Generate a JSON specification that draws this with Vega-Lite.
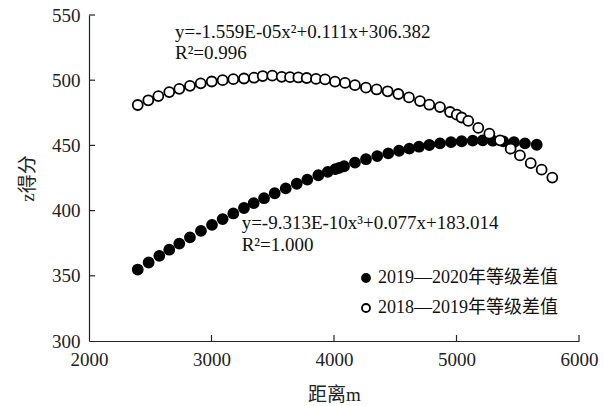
{
  "$schema": "https://vega.github.io/schema/vega-lite/v6.json",
  "width": 490,
  "height": 326,
  "padding": {"left": 89, "top": 15, "right": 25, "bottom": 65},
  "autosize": {"type": "none"},
  "background": "white",
  "config": {
    "view": {"stroke": null},
    "font": "Liberation Serif",
    "axis": {"grid": false, "domainColor": "#222", "labelColor": "#222", "titleColor": "#222", "labelFont": "Liberation Serif", "titleFont": "Liberation Serif, Noto Sans CJK SC", "labelFontSize": 19, "titleFontSize": 19, "titleFontWeight": "normal", "ticks": false, "domainWidth": 1.2, "labelFlush": false}
  },
  "layer": [
    {
      "data": {"values": [{"tx": 3000}, {"tx": 4000}, {"tx": 5000}, {"tx": 6000}]},
      "mark": {"type": "rule", "color": "#222", "strokeWidth": 1.2},
      "encoding": {
        "x": {"field": "tx", "type": "quantitative", "scale": {"domain": [2000, 6000], "nice": false, "zero": false}},
        "y": {"datum": 300, "type": "quantitative"},
        "y2": {"datum": 304.6}
      }
    },
    {
      "data": {"values": [{"ty": 350}, {"ty": 400}, {"ty": 450}, {"ty": 500}, {"ty": 550}]},
      "mark": {"type": "rule", "color": "#222", "strokeWidth": 1.2},
      "encoding": {
        "y": {"field": "ty", "type": "quantitative"},
        "x": {"datum": 2000, "type": "quantitative"},
        "x2": {"datum": 2049}
      }
    },
    {
      "data": {
        "values": [
          {"d": 2398, "z": 354.8, "s": "2019—2020年等级差值"},
          {"d": 2487, "z": 360.2, "s": "2019—2020年等级差值"},
          {"d": 2574, "z": 365.3, "s": "2019—2020年等级差值"},
          {"d": 2655, "z": 370.0, "s": "2019—2020年等级差值"},
          {"d": 2737, "z": 374.7, "s": "2019—2020年等级差值"},
          {"d": 2824, "z": 379.5, "s": "2019—2020年等级差值"},
          {"d": 2914, "z": 384.4, "s": "2019—2020年等级差值"},
          {"d": 3004, "z": 389.1, "s": "2019—2020年等级差值"},
          {"d": 3091, "z": 393.5, "s": "2019—2020年等级差值"},
          {"d": 3178, "z": 397.8, "s": "2019—2020年等级差值"},
          {"d": 3265, "z": 402.0, "s": "2019—2020年等级差值"},
          {"d": 3344, "z": 405.7, "s": "2019—2020年等级差值"},
          {"d": 3429, "z": 409.5, "s": "2019—2020年等级差值"},
          {"d": 3516, "z": 413.3, "s": "2019—2020年等级差值"},
          {"d": 3606, "z": 417.0, "s": "2019—2020年等级差值"},
          {"d": 3696, "z": 420.6, "s": "2019—2020年等级差值"},
          {"d": 3782, "z": 423.8, "s": "2019—2020年等级差值"},
          {"d": 3872, "z": 427.1, "s": "2019—2020年等级差值"},
          {"d": 3949, "z": 429.7, "s": "2019—2020年等级差值"},
          {"d": 4011, "z": 431.8, "s": "2019—2020年等级差值"},
          {"d": 4043, "z": 432.8, "s": "2019—2020年等级差值"},
          {"d": 4082, "z": 434.0, "s": "2019—2020年等级差值"},
          {"d": 4171, "z": 436.8, "s": "2019—2020年等级差值"},
          {"d": 4261, "z": 439.4, "s": "2019—2020年等级差值"},
          {"d": 4353, "z": 441.8, "s": "2019—2020年等级差值"},
          {"d": 4443, "z": 443.9, "s": "2019—2020年等级差值"},
          {"d": 4531, "z": 445.9, "s": "2019—2020年等级差值"},
          {"d": 4615, "z": 447.5, "s": "2019—2020年等级差值"},
          {"d": 4694, "z": 449.0, "s": "2019—2020年等级差值"},
          {"d": 4778, "z": 450.3, "s": "2019—2020年等级差值"},
          {"d": 4865, "z": 451.5, "s": "2019—2020年等级差值"},
          {"d": 4955, "z": 452.5, "s": "2019—2020年等级差值"},
          {"d": 5042, "z": 453.2, "s": "2019—2020年等级差值"},
          {"d": 5132, "z": 453.7, "s": "2019—2020年等级差值"},
          {"d": 5214, "z": 453.8, "s": "2019—2020年等级差值"},
          {"d": 5296, "z": 453.6, "s": "2019—2020年等级差值"},
          {"d": 5382, "z": 453.1, "s": "2019—2020年等级差值"},
          {"d": 5469, "z": 452.5, "s": "2019—2020年等级差值"},
          {"d": 5559, "z": 451.6, "s": "2019—2020年等级差值"},
          {"d": 5655, "z": 450.5, "s": "2019—2020年等级差值"},
          {"d": 2398, "z": 481.0, "s": "2018—2019年等级差值"},
          {"d": 2484, "z": 484.6, "s": "2018—2019年等级差值"},
          {"d": 2566, "z": 487.8, "s": "2018—2019年等级差值"},
          {"d": 2655, "z": 490.9, "s": "2018—2019年等级差值"},
          {"d": 2737, "z": 493.4, "s": "2018—2019年等级差值"},
          {"d": 2824, "z": 495.7, "s": "2018—2019年等级差值"},
          {"d": 2912, "z": 497.6, "s": "2018—2019年等级差值"},
          {"d": 3002, "z": 499.0, "s": "2018—2019年等级差值"},
          {"d": 3091, "z": 500.0, "s": "2018—2019年等级差值"},
          {"d": 3178, "z": 500.8, "s": "2018—2019年等级差值"},
          {"d": 3265, "z": 501.3, "s": "2018—2019年等级差值"},
          {"d": 3347, "z": 501.9, "s": "2018—2019年等级差值"},
          {"d": 3418, "z": 503.2, "s": "2018—2019年等级差值"},
          {"d": 3496, "z": 503.5, "s": "2018—2019年等级差值"},
          {"d": 3573, "z": 502.6, "s": "2018—2019年等级差值"},
          {"d": 3641, "z": 502.3, "s": "2018—2019年等级差值"},
          {"d": 3709, "z": 502.1, "s": "2018—2019年等级差值"},
          {"d": 3777, "z": 501.7, "s": "2018—2019年等级差值"},
          {"d": 3853, "z": 501.0, "s": "2018—2019年等级差值"},
          {"d": 3927, "z": 500.6, "s": "2018—2019年等级差值"},
          {"d": 4008, "z": 498.9, "s": "2018—2019年等级差值"},
          {"d": 4090, "z": 497.9, "s": "2018—2019年等级差值"},
          {"d": 4171, "z": 496.2, "s": "2018—2019年等级差值"},
          {"d": 4261, "z": 494.3, "s": "2018—2019年等级差值"},
          {"d": 4348, "z": 492.9, "s": "2018—2019年等级差值"},
          {"d": 4438, "z": 491.5, "s": "2018—2019年等级差值"},
          {"d": 4525, "z": 489.4, "s": "2018—2019年等级差值"},
          {"d": 4612, "z": 486.8, "s": "2018—2019年等级差值"},
          {"d": 4702, "z": 484.0, "s": "2018—2019年等级差值"},
          {"d": 4778, "z": 481.2, "s": "2018—2019年等级差值"},
          {"d": 4865, "z": 479.4, "s": "2018—2019年等级差值"},
          {"d": 4947, "z": 475.6, "s": "2018—2019年等级差值"},
          {"d": 5002, "z": 473.6, "s": "2018—2019年等级差值"},
          {"d": 5042, "z": 471.4, "s": "2018—2019年等级差值"},
          {"d": 5096, "z": 468.8, "s": "2018—2019年等级差值"},
          {"d": 5178, "z": 463.4, "s": "2018—2019年等级差值"},
          {"d": 5268, "z": 459.0, "s": "2018—2019年等级差值"},
          {"d": 5355, "z": 453.9, "s": "2018—2019年等级差值"},
          {"d": 5442, "z": 447.5, "s": "2018—2019年等级差值"},
          {"d": 5518, "z": 442.3, "s": "2018—2019年等级差值"},
          {"d": 5606, "z": 436.4, "s": "2018—2019年等级差值"},
          {"d": 5695, "z": 431.4, "s": "2018—2019年等级差值"},
          {"d": 5782, "z": 425.3, "s": "2018—2019年等级差值"}
        ]
      },
      "mark": {"type": "point", "shape": "circle", "filled": true, "stroke": "black", "strokeWidth": 1.8, "opacity": 1},
      "encoding": {
        "x": {"field": "d", "type": "quantitative", "title": "距离m", "scale": {"domain": [2000, 6000], "nice": false, "zero": false}, "axis": {"values": [2000, 3000, 4000, 5000, 6000], "format": "d", "labelPadding": 9, "titlePadding": 16}},
        "y": {"field": "z", "type": "quantitative", "title": "z得分", "scale": {"domain": [300, 550], "nice": false, "zero": false}, "axis": {"values": [300, 350, 400, 450, 500, 550], "labelPadding": 9, "titlePadding": 14}},
        "fill": {"field": "s", "type": "nominal", "scale": {"domain": ["2019—2020年等级差值", "2018—2019年等级差值"], "range": ["black", "white"]}, "legend": {"title": null, "orient": "none", "legendX": 268, "legendY": 254, "symbolType": "circle", "symbolSize": 64, "symbolStrokeColor": "black", "symbolStrokeWidth": 1.8, "labelFont": "Liberation Serif, Noto Sans CJK SC", "labelFontSize": 18, "labelColor": "#111", "labelLimit": 400, "rowPadding": 12, "labelOffset": 3, "symbolOffset": 0}},
        "size": {"value": 100}
      }
    },
    {
      "data": {
        "values": [
          {"d": 2702, "z": 536.7, "t": "y=-1.559E-05x²+0.111x+306.382"},
          {"d": 2702, "z": 520.7, "t": "R²=0.996"},
          {"d": 3246, "z": 390.3, "t": "y=-9.313E-10x³+0.077x+183.014"},
          {"d": 3246, "z": 373.4, "t": "R²=1.000"}
        ]
      },
      "mark": {"type": "text", "align": "left", "baseline": "middle", "font": "Liberation Serif", "fontSize": 19, "color": "#111"},
      "encoding": {
        "x": {"field": "d", "type": "quantitative"},
        "y": {"field": "z", "type": "quantitative"},
        "text": {"field": "t"}
      }
    }
  ]
}
